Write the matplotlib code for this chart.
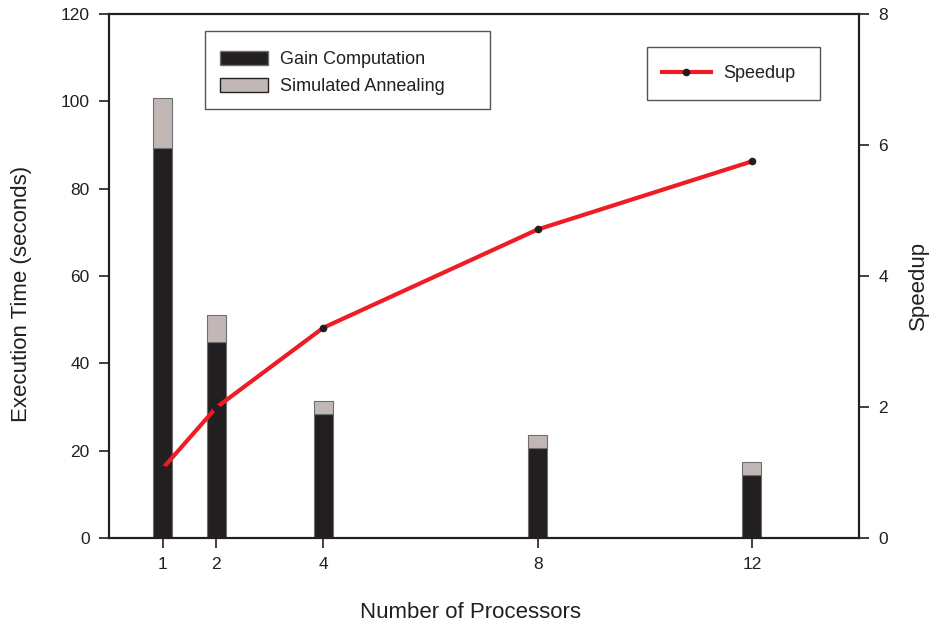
import matplotlib
matplotlib.use("Agg")
import matplotlib.pyplot as plt
from matplotlib.patches import Patch, Rectangle
from matplotlib.lines import Line2D

plt.rcParams['font.family'] = ['Liberation Sans', 'DejaVu Sans']

# data
processors = [1, 2, 4, 8, 12]
gain_time = [89.3, 45.0, 28.3, 20.6, 14.5]
total_time = [100.8, 51.0, 31.4, 23.6, 17.4]
anneal_time = [t - g for t, g in zip(total_time, gain_time)]
speedup = [1.06, 1.99, 3.21, 4.71, 5.75]

BLACK = '#231f20'
GREY = '#c1b8b6'
RED = '#ee1c24'
EDGE = '#6d6e70'
W, H = 935, 628

fig = plt.figure(figsize=(9.35, 6.28), dpi=100)
axis = fig.add_axes([109 / W, 1 - 538 / H, 750 / W, 524 / H])

axis.bar(processors, gain_time, width=0.36, color=BLACK, edgecolor=EDGE,
         linewidth=0.8, zorder=2)
axis.bar(processors, anneal_time, width=0.36, bottom=gain_time, color=GREY,
         edgecolor=EDGE, linewidth=0.8, zorder=2)
axis.set_xlim(0, 14)
axis.set_ylim(0, 120)
axis.set_xticks(processors)
axis.set_yticks(range(0, 121, 20))

ax2 = axis.twinx()
ax2.plot(processors, speedup, color=RED, linewidth=3, marker='o',
         markersize=4.5, markerfacecolor=BLACK, markeredgecolor=BLACK,
         solid_capstyle='butt', zorder=3)
ax2.set_ylim(0, 8)
ax2.set_yticks(range(0, 9, 2))

for ax in (axis, ax2):
    ax.tick_params(direction='out', length=7, width=1.2, labelsize=12.5,
                   colors=BLACK, pad=7)
    for s in ax.spines.values():
        s.set_linewidth(1.5)
        s.set_color(BLACK)

# axis titles
fig.text(470 / W, 1 - 612 / H, 'Number of Processors', fontsize=16,
         color=BLACK, ha='center', va='center')
fig.text(22 / W, 1 - 294 / H, 'Execution Time (seconds)', fontsize=16,
         color=BLACK, ha='center', va='center', rotation=90)
fig.text(918 / W, 1 - 285 / H, 'Speedup', fontsize=16,
         color=BLACK, ha='center', va='center', rotation=90)

# legend boxes
for x0, y0, x1, y1 in [(205, 31, 490, 109), (647, 47, 820, 100)]:
    ax2.add_patch(Rectangle((x0 / W, 1 - y1 / H), (x1 - x0) / W,
                            (y1 - y0) / H, transform=fig.transFigure,
                            facecolor='white', edgecolor='#555555',
                            linewidth=1.0, zorder=4, clip_on=False))

h1 = [Patch(facecolor=BLACK, edgecolor=EDGE, label='Gain Computation'),
      Patch(facecolor=GREY, edgecolor=BLACK, label='Simulated Annealing')]
leg1 = ax2.legend(handles=h1, loc='center left',
                  bbox_to_anchor=(220 / W, 1 - 73 / H),
                  bbox_transform=fig.transFigure, borderaxespad=0,
                  borderpad=0, frameon=False, fontsize=13,
                  handlelength=2.66, handleheight=0.83,
                  labelspacing=0.55, handletextpad=0.65)
ax2.add_artist(leg1)

h2 = [Line2D([0], [0], color=RED, linewidth=3, marker='o', markersize=4.5,
             markerfacecolor=BLACK, markeredgecolor=BLACK, label='Speedup')]
leg2 = ax2.legend(handles=h2, loc='center left',
                  bbox_to_anchor=(662 / W, 1 - 74 / H),
                  bbox_transform=fig.transFigure, borderaxespad=0,
                  borderpad=0, frameon=False, fontsize=13,
                  handlelength=2.7, handletextpad=0.7)
for leg in (leg1, leg2):
    leg.set_zorder(5)
    for t in leg.get_texts():
        t.set_color(BLACK)

fig.savefig('out.png', dpi=100)
